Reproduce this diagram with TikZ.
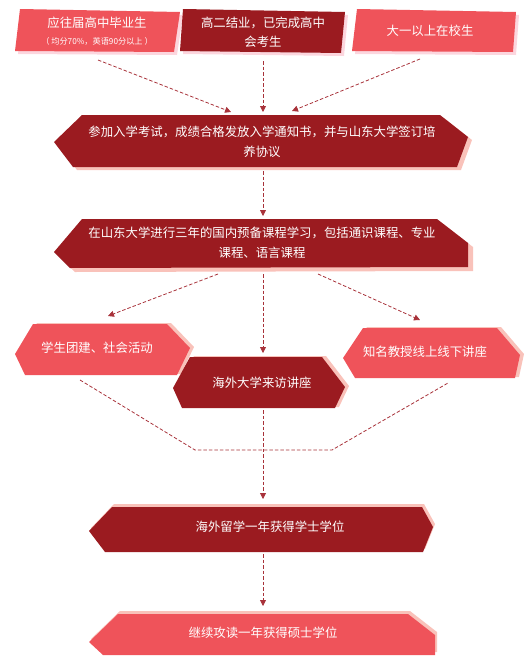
\documentclass[tikz,border=0pt]{standalone}
\usepackage{fontspec}
\newfontfamily\cjk{Noto Sans CJK SC}
\usetikzlibrary{arrows.meta}
\definecolor{darkred}{HTML}{9B1B20}
\definecolor{lightred}{HTML}{EF535A}
\definecolor{pinkA}{HTML}{FCD6DE}
\definecolor{pinkB}{HTML}{F9C2BA}
\definecolor{arrowred}{HTML}{A8323A}
\tikzset{
  x=1pt,y=-1pt,
  txt/.style={text=white,font=\cjk\fontsize{12.4}{14}\selectfont,inner sep=0pt},
  smalltxt/.style={text=white,font=\cjk\fontsize{8.2}{9}\selectfont,inner sep=0pt},
  conn/.style={draw=arrowred,line width=0.8pt,dash pattern=on 3.5pt off 2pt},
  arr/.style={conn,-{Triangle[length=6pt,width=6pt]}},
}
\begin{document}
\begin{tikzpicture}
\useasboundingbox (0,0) rectangle (529,664);
% ---------- top boxes ----------
\fill[pinkA,shift={(3,3)}] (20,9) -- (180,12) -- (174,52) -- (15,51) -- cycle;
\fill[lightred] (20,9) -- (180,12) -- (174,52) -- (15,51) -- cycle;
\fill[pinkA,shift={(3,3)}] (183,9) -- (345,12) -- (341,53) -- (180,51) -- cycle;
\fill[darkred] (183,9) -- (345,12) -- (341,53) -- (180,51) -- cycle;
\fill[pinkA,shift={(3,3)}] (357,9) -- (516,12) -- (513,52) -- (352,51) -- cycle;
\fill[lightred] (357,9) -- (516,12) -- (513,52) -- (352,51) -- cycle;
\node[txt] (t1) at (97,23) {应往届高中毕业生};
\node[smalltxt] (t1b) at (97,41) {（ 均分70\%，英语90分以上 ）};
\node[txt] (t2) at (263,23) {高二结业，已完成高中};
\node[txt] (t2b) at (263,42) {会考生};
\node[txt] (t3) at (430,31) {大一以上在校生};
% ---------- hex 1 ----------
\fill[pinkB,shift={(4,3)}] (54,142) -- (82,115) -- (440,115) -- (468,137) -- (457,167) -- (73,167) -- cycle;
\fill[darkred] (54,142) -- (82,115) -- (440,115) -- (468,137) -- (457,167) -- (73,167) -- cycle;
\node[txt] (h1) at (262,132) {参加入学考试，成绩合格发放入学通知书，并与山东大学签订培};
\node[txt] (h1b) at (262,152) {养协议};
% ---------- hex 2 ----------
\fill[pinkB,shift={(5,4)}] (54,252) -- (82,219) -- (437,219) -- (468,243) -- (468,267) -- (70,268) -- cycle;
\fill[darkred] (54,252) -- (82,219) -- (437,219) -- (468,243) -- (468,267) -- (70,268) -- cycle;
\node[txt] (h2) at (262,233) {在山东大学进行三年的国内预备课程学习，包括通识课程、专业};
\node[txt] (h2b) at (262,253) {课程、语言课程};
% ---------- middle row ----------
\fill[pinkB,shift={(4,-1)}] (15,354) -- (33,324) -- (167,324) -- (190,348) -- (177,375) -- (25,375) -- cycle;
\fill[lightred] (15,354) -- (33,324) -- (167,324) -- (190,348) -- (177,375) -- (25,375) -- cycle;
\node[txt] (m1) at (97,348) {学生团建、社会活动};
\fill[pinkB,shift={(4,-1)}] (343,358) -- (363,328) -- (497,328) -- (520,355) -- (515,378) -- (355,378) -- cycle;
\fill[lightred] (343,358) -- (363,328) -- (497,328) -- (520,355) -- (515,378) -- (355,378) -- cycle;
\node[txt] (m3) at (425,352) {知名教授线上线下讲座};
\fill[pinkB,shift={(4,-1)}] (173,388) -- (190,357) -- (322,357) -- (345,387) -- (335,408) -- (182,408) -- cycle;
\fill[darkred] (173,388) -- (190,357) -- (322,357) -- (345,387) -- (335,408) -- (182,408) -- cycle;
\node[txt] (m2) at (262,383) {海外大学来访讲座};
% ---------- bottom ----------
\fill[pinkB,shift={(2,-3)}] (89,531) -- (112,507) -- (422,507) -- (433,527) -- (423,552) -- (105,552) -- cycle;
\fill[darkred] (89,531) -- (112,507) -- (422,507) -- (433,527) -- (423,552) -- (105,552) -- cycle;
\node[txt] (b1) at (270,527) {海外留学一年获得学士学位};
\fill[pinkB,shift={(2,-3)}] (89,642) -- (118,614) -- (408,614) -- (435,635) -- (435,655) -- (103,655) -- cycle;
\fill[lightred] (89,642) -- (118,614) -- (408,614) -- (435,635) -- (435,655) -- (103,655) -- cycle;
\node[txt] (b2) at (263,633) {继续攻读一年获得硕士学位};
% ---------- connector endpoints ----------
\coordinate (s1) at (98,60);   \coordinate (e1) at (231,112);
\coordinate (s2) at (263,61);  \coordinate (e2) at (263,112);
\coordinate (s3) at (420,59);  \coordinate (e3) at (292,111);
\coordinate (s4) at (263,171); \coordinate (e4) at (263,216);
\coordinate (s5) at (218,274); \coordinate (e5) at (108,316);
\coordinate (s6) at (263,274); \coordinate (e6) at (263,353);
\coordinate (s7) at (318,274); \coordinate (e7) at (420,320);
\coordinate (l1) at (80,380);  \coordinate (l2) at (195,450);
\coordinate (l3) at (332,450); \coordinate (l4) at (448,383);
\coordinate (s8) at (263,410); \coordinate (e8) at (263,499);
\coordinate (s9) at (263,554); \coordinate (e9) at (263,606);
% ---------- connectors ----------
\draw[arr] (s1) -- (e1);
\draw[arr] (s2) -- (e2);
\draw[arr] (s3) -- (e3);
\draw[arr] (s4) -- (e4);
\draw[arr] (s5) -- (e5);
\draw[arr] (s6) -- (e6);
\draw[arr] (s7) -- (e7);
\draw[conn] (l1) -- (l2) -- (l3) -- (l4);
\draw[arr] (s8) -- (e8);
\draw[arr] (s9) -- (e9);
\end{tikzpicture}
\end{document}
